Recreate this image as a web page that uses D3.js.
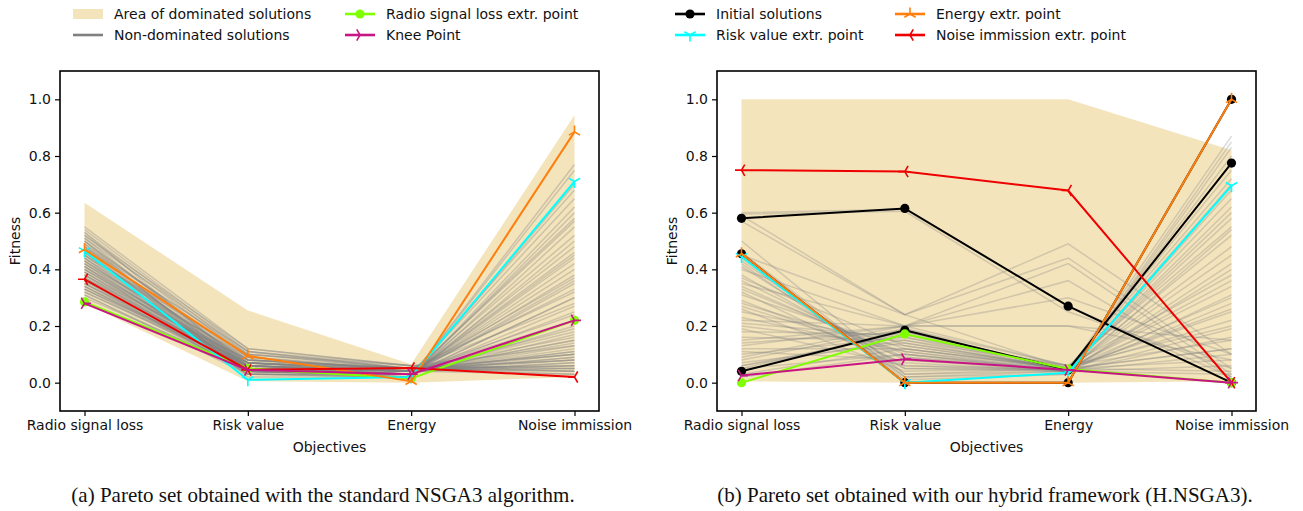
<!DOCTYPE html>
<html>
<head>
<meta charset="utf-8">
<script src="https://cdn.jsdelivr.net/npm/d3@7"></script>
<style>
  body { margin: 0; background: #fff; }
  svg text { font-family: "DejaVu Sans", sans-serif; fill: #111; }
  .caption { font-family: "Liberation Serif", "Times New Roman", serif; }
</style>
</head>
<body>
<div id="chart"></div>
<script>
// objectives and ticks
var objectives = ["Radio signal loss", "Risk value", "Energy", "Noise immission"];
var yTicks = [0, 0.2, 0.4, 0.6, 0.8, 1.0];

// (a) standard NSGA3
var aAreaUpper = [0.635, 0.255, 0.065, 0.945];
var aAreaLower = [0.28, 0.005, 0.0, 0.02];
var aRadioExtr = [0.285, 0.05, 0.015, 0.22];
var aRiskExtr = [0.465, 0.01, 0.02, 0.71];
var aEnergyExtr = [0.47, 0.095, 0.005, 0.885];
var aNoiseExtr = [0.365, 0.045, 0.052, 0.02];
var aKnee = [0.28, 0.045, 0.03, 0.22];
var aNonDominated = [
    [0.55, 0.12, 0.06, 0.04], [0.54, 0.11, 0.05, 0.10], [0.53, 0.10, 0.05, 0.06],
    [0.52, 0.09, 0.04, 0.15], [0.51, 0.11, 0.05, 0.08], [0.50, 0.08, 0.04, 0.22],
    [0.49, 0.10, 0.06, 0.05], [0.48, 0.07, 0.03, 0.30], [0.47, 0.09, 0.04, 0.12],
    [0.46, 0.06, 0.03, 0.40], [0.45, 0.08, 0.05, 0.03], [0.44, 0.05, 0.02, 0.50],
    [0.43, 0.07, 0.04, 0.18], [0.42, 0.04, 0.02, 0.60], [0.41, 0.06, 0.03, 0.25],
    [0.40, 0.05, 0.03, 0.65], [0.39, 0.07, 0.04, 0.09], [0.38, 0.04, 0.02, 0.55],
    [0.37, 0.06, 0.04, 0.14], [0.36, 0.03, 0.02, 0.70], [0.35, 0.05, 0.03, 0.35],
    [0.34, 0.06, 0.04, 0.07], [0.33, 0.04, 0.03, 0.45], [0.32, 0.05, 0.04, 0.11],
    [0.31, 0.04, 0.03, 0.20], [0.30, 0.05, 0.04, 0.05], [0.47, 0.03, 0.02, 0.75],
    [0.50, 0.02, 0.02, 0.77], [0.44, 0.03, 0.03, 0.68], [0.41, 0.03, 0.02, 0.62],
    [0.39, 0.04, 0.03, 0.57], [0.36, 0.05, 0.03, 0.48], [0.34, 0.04, 0.03, 0.42],
    [0.33, 0.06, 0.04, 0.37], [0.38, 0.08, 0.05, 0.32], [0.42, 0.09, 0.05, 0.28],
    [0.45, 0.10, 0.05, 0.16], [0.48, 0.11, 0.06, 0.13], [0.52, 0.12, 0.06, 0.02],
    [0.40, 0.08, 0.05, 0.04], [0.35, 0.07, 0.04, 0.03], [0.32, 0.06, 0.04, 0.06],
    [0.43, 0.06, 0.04, 0.10], [0.46, 0.07, 0.04, 0.08], [0.37, 0.05, 0.04, 0.24],
    [0.31, 0.03, 0.03, 0.17], [0.49, 0.04, 0.03, 0.52], [0.53, 0.05, 0.03, 0.44],
    [0.51, 0.06, 0.04, 0.33], [0.48, 0.05, 0.03, 0.38], [0.45, 0.04, 0.03, 0.58],
    [0.42, 0.05, 0.04, 0.13], [0.40, 0.06, 0.04, 0.19], [0.38, 0.05, 0.03, 0.27],
    [0.36, 0.07, 0.05, 0.05], [0.34, 0.05, 0.04, 0.09], [0.44, 0.08, 0.05, 0.06],
    [0.47, 0.06, 0.04, 0.11], [0.50, 0.07, 0.04, 0.07], [0.39, 0.06, 0.04, 0.15],
    [0.35, 0.04, 0.03, 0.30], [0.43, 0.04, 0.03, 0.46], [0.46, 0.05, 0.03, 0.36],
    [0.41, 0.07, 0.05, 0.04], [0.37, 0.08, 0.05, 0.08], [0.33, 0.07, 0.05, 0.10]
];

// (b) hybrid framework H.NSGA3
var bAreaUpper = [1.0, 1.0, 1.0, 0.82];
var bAreaLower = [0.005, 0.0, 0.0, 0.005];
var bInitial = [
    [0.58, 0.615, 0.27, 0.0],
    [0.04, 0.185, 0.045, 0.775],
    [0.455, 0.0, 0.0, 1.0]
];
var bRadioExtr = [0.0, 0.172, 0.048, 0.0];
var bRiskExtr = [0.445, 0.0, 0.035, 0.695];
var bEnergyExtr = [0.455, 0.0, 0.0, 1.0];
var bNoiseExtr = [0.75, 0.745, 0.678, 0.0];
var bKnee = [0.025, 0.083, 0.045, 0.0];
var bNonDominated = [
    [0.60, 0.612, 0.27, 0.02], [0.595, 0.605, 0.25, 0.05], [0.59, 0.24, 0.05, 0.60],
    [0.57, 0.24, 0.49, 0.10], [0.45, 0.24, 0.44, 0.05], [0.40, 0.20, 0.42, 0.03],
    [0.35, 0.20, 0.36, 0.02], [0.42, 0.02, 0.03, 0.85], [0.44, 0.01, 0.03, 0.83],
    [0.43, 0.03, 0.04, 0.87], [0.41, 0.05, 0.04, 0.80], [0.38, 0.06, 0.05, 0.75],
    [0.36, 0.08, 0.04, 0.70], [0.33, 0.10, 0.05, 0.65], [0.31, 0.12, 0.05, 0.58],
    [0.29, 0.07, 0.04, 0.54], [0.27, 0.09, 0.05, 0.48], [0.25, 0.14, 0.05, 0.45],
    [0.23, 0.11, 0.04, 0.40], [0.21, 0.16, 0.06, 0.38], [0.20, 0.13, 0.05, 0.34],
    [0.18, 0.17, 0.05, 0.30], [0.16, 0.15, 0.04, 0.28], [0.14, 0.18, 0.05, 0.25],
    [0.12, 0.12, 0.05, 0.22], [0.10, 0.16, 0.04, 0.19], [0.08, 0.19, 0.06, 0.15],
    [0.07, 0.14, 0.05, 0.12], [0.06, 0.17, 0.04, 0.10], [0.05, 0.18, 0.05, 0.08],
    [0.04, 0.19, 0.04, 0.06], [0.03, 0.12, 0.05, 0.04], [0.02, 0.10, 0.04, 0.03],
    [0.09, 0.20, 0.06, 0.20], [0.15, 0.20, 0.30, 0.10], [0.50, 0.03, 0.05, 0.72],
    [0.46, 0.02, 0.04, 0.68], [0.32, 0.05, 0.05, 0.62], [0.26, 0.04, 0.05, 0.52],
    [0.19, 0.06, 0.04, 0.42], [0.11, 0.08, 0.05, 0.36], [0.05, 0.10, 0.04, 0.31],
    [0.13, 0.20, 0.20, 0.08], [0.22, 0.20, 0.20, 0.15], [0.28, 0.11, 0.05, 0.26],
    [0.34, 0.09, 0.04, 0.16], [0.37, 0.13, 0.05, 0.12], [0.06, 0.15, 0.06, 0.55]
];

var captionA = "(a) Pareto set obtained with the standard NSGA3 algorithm.";
var captionB = "(b) Pareto set obtained with our hybrid framework (H.NSGA3).";

var svgWidth = 1303;
var svgHeight = 511;

var colors = {
    area: "goldenrod",
    gray: "gray",
    initial: "black",
    radio: "#7fff00",
    risk: "#00ffff",
    energy: "#ff7f0e",
    noise: "#ee0000",
    knee: "#c71585"
};

var svg = d3.select("#chart")
    .append("svg")
    .attr("width", svgWidth)
    .attr("height", svgHeight);

// tri markers like matplotlib "1" "2" "3" "4"
function triPath(kind, a) {
    var c = 0.866 * a, h = 0.5 * a;
    var arms;
    if (kind === "down") arms = [[0, a], [-c, -h], [c, -h]];
    if (kind === "up") arms = [[0, -a], [-c, h], [c, h]];
    if (kind === "left") arms = [[-a, 0], [h, -c], [h, c]];
    if (kind === "right") arms = [[a, 0], [-h, -c], [-h, c]];
    return arms.map(p => `M0,0L${p[0]},${p[1]}`).join("");
}

function drawMarkers(g, pts, marker, color) {
    if (marker === "o") {
        g.selectAll(null).data(pts).enter().append("circle")
            .attr("cx", d => d[0]).attr("cy", d => d[1])
            .attr("r", 4.6).attr("fill", color);
    } else {
        g.selectAll(null).data(pts).enter().append("path")
            .attr("transform", d => `translate(${d[0]},${d[1]})`)
            .attr("d", triPath(marker, 6.5))
            .attr("stroke", color).attr("stroke-width", 1.6).attr("fill", "none");
    }
}

function drawPanel(left, opts) {
    var top = 71, w = 539, h = 340;
    var g = svg.append("g").attr("transform", `translate(${left}, ${top})`);

    var x = d3.scalePoint().domain(objectives).range([0, w]).padding(0.15);
    var y = d3.scaleLinear().domain([-0.1, 1.1]).range([h, 0]);

    var line = d3.line().x((d, i) => x(objectives[i])).y(d => y(d));

    // area of dominated solutions
    var area = d3.area()
        .x((d, i) => x(objectives[i]))
        .y0((d, i) => y(opts.areaLower[i]))
        .y1(d => y(d));
    g.append("path")
        .attr("d", area(opts.areaUpper))
        .attr("fill", colors.area)
        .attr("fill-opacity", 0.3);

    // non-dominated solutions
    g.selectAll(".nd").data(opts.nonDominated).enter().append("path")
        .attr("class", "nd")
        .attr("d", line)
        .attr("fill", "none")
        .attr("stroke", colors.gray)
        .attr("stroke-opacity", opts.grayOpacity)
        .attr("stroke-width", 1.5);

    opts.series.forEach(function (s) {
        s.data.forEach(function (vals) {
            g.append("path")
                .attr("d", line(vals))
                .attr("fill", "none")
                .attr("stroke", s.color)
                .attr("stroke-width", 2);
            drawMarkers(g, vals.map((v, i) => [x(objectives[i]), y(v)]), s.marker, s.color);
        });
    });

    // axes
    var bottomAxis = d3.axisBottom(x).tickSize(5).tickPadding(4);
    var leftAxis = d3.axisLeft(y).tickValues(yTicks).tickFormat(d3.format(".1f")).tickSize(5).tickPadding(4);

    var gx = g.append("g").attr("transform", `translate(0, ${h})`).call(bottomAxis);
    var gy = g.append("g").call(leftAxis);
    [gx, gy].forEach(function (a) {
        a.select(".domain").remove();
        a.selectAll("line").attr("stroke", "#000").attr("stroke-width", 1.2);
        a.selectAll("text").style("font-size", "14px").style("font-family", "DejaVu Sans").attr("fill", "#111");
    });

    g.append("rect")
        .attr("width", w).attr("height", h)
        .attr("fill", "none").attr("stroke", "#000").attr("stroke-width", 1.6);

    // axes labels
    g.append("text")
        .attr("transform", `translate(${-40}, ${h / 2}) rotate(-90)`)
        .attr("text-anchor", "middle")
        .style("font-size", "14px")
        .text("Fitness");

    g.append("text")
        .attr("x", w / 2).attr("y", h + 41)
        .attr("text-anchor", "middle")
        .style("font-size", "14px")
        .text("Objectives");

    svg.append("text")
        .attr("class", "caption")
        .attr("x", opts.captionX).attr("y", 502)
        .attr("text-anchor", "middle")
        .style("font-size", "21px")
        .text(opts.caption);
}

drawPanel(60, {
    areaUpper: aAreaUpper, areaLower: aAreaLower, nonDominated: aNonDominated,
    grayOpacity: 0.34,
    series: [
        { data: [aRadioExtr], color: colors.radio, marker: "o" },
        { data: [aRiskExtr], color: colors.risk, marker: "down" },
        { data: [aEnergyExtr], color: colors.energy, marker: "up" },
        { data: [aNoiseExtr], color: colors.noise, marker: "left" },
        { data: [aKnee], color: colors.knee, marker: "right" }
    ],
    caption: captionA, captionX: 323
});

drawPanel(717, {
    areaUpper: bAreaUpper, areaLower: bAreaLower, nonDominated: bNonDominated,
    grayOpacity: 0.3,
    series: [
        { data: bInitial, color: colors.initial, marker: "o" },
        { data: [bRadioExtr], color: colors.radio, marker: "o" },
        { data: [bRiskExtr], color: colors.risk, marker: "down" },
        { data: [bEnergyExtr], color: colors.energy, marker: "up" },
        { data: [bNoiseExtr], color: colors.noise, marker: "left" },
        { data: [bKnee], color: colors.knee, marker: "right" }
    ],
    caption: captionB, captionX: 985
});

// legends
var legendItems = [
    { label: "Area of dominated solutions", kind: "patch", x: 73, y: 14 },
    { label: "Non-dominated solutions", kind: "line", color: "#808080", x: 73, y: 35 },
    { label: "Radio signal loss extr. point", kind: "line", color: colors.radio, marker: "o", x: 345, y: 14 },
    { label: "Knee Point", kind: "line", color: colors.knee, marker: "right", x: 345, y: 35 },
    { label: "Initial solutions", kind: "line", color: colors.initial, marker: "o", x: 675, y: 14 },
    { label: "Risk value extr. point", kind: "line", color: colors.risk, marker: "down", x: 675, y: 35 },
    { label: "Energy extr. point", kind: "line", color: colors.energy, marker: "up", x: 895, y: 14 },
    { label: "Noise immission extr. point", kind: "line", color: colors.noise, marker: "left", x: 895, y: 35 }
];

legendItems.forEach(function (it) {
    var lg = svg.append("g").attr("transform", `translate(${it.x}, ${it.y})`);
    if (it.kind === "patch") {
        lg.append("rect").attr("x", 0).attr("y", -5).attr("width", 30).attr("height", 10)
            .attr("fill", colors.area).attr("fill-opacity", 0.3);
    } else {
        lg.append("line").attr("x1", 0).attr("x2", 30)
            .attr("stroke", it.color).attr("stroke-width", 2.6);
        if (it.marker) drawMarkers(lg, [[15, 0]], it.marker, it.color);
    }
    lg.append("text")
        .attr("x", 41).attr("y", 5)
        .style("font-size", "14px")
        .text(it.label);
});
</script>
</body>
</html>
